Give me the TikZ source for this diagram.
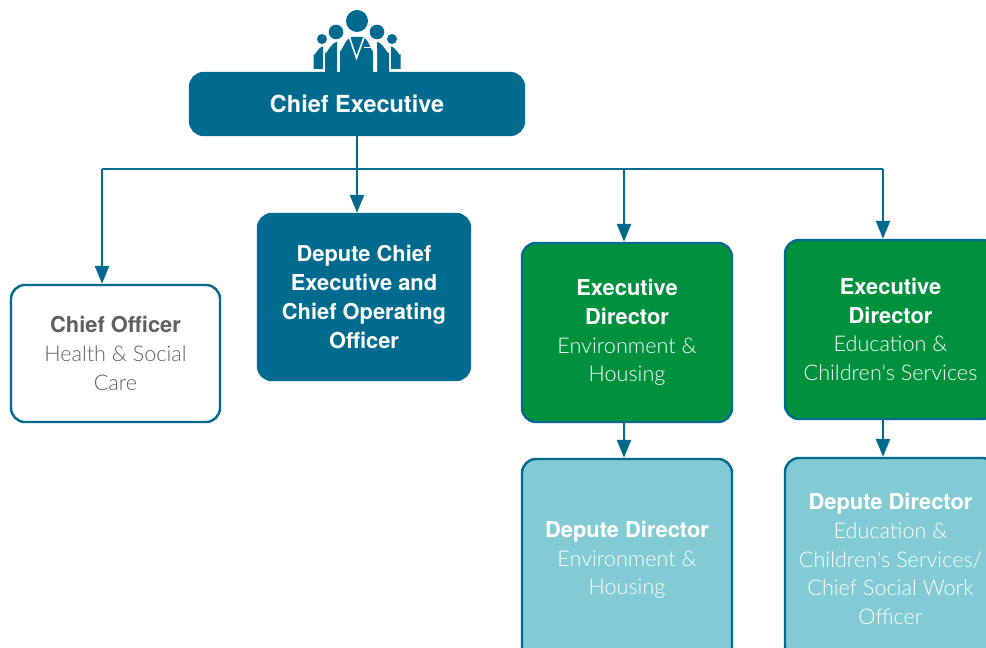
\documentclass[tikz,border=0pt]{standalone}
\usepackage{fontspec}
\setmainfont{TeX Gyre Heros}
\newfontfamily\lightf{Lato Light}
\usetikzlibrary{arrows.meta,calc}
\definecolor{ublue}{HTML}{006B8F}
\definecolor{ugreen}{HTML}{00913F}
\definecolor{ulight}{HTML}{82CBD4}
\definecolor{ugrey}{HTML}{5F5F5F}
\newcommand\pxu{0.75pt}
\newcommand\hd[1]{{\bfseries #1}}
\newcommand\lt[1]{{\lightf\fontsize{16.2}{21.6}\selectfont #1}}
\tikzset{
  boxbase/.style={draw=ublue,line width=2.4*\pxu,rounded corners=14*\pxu,align=center,inner sep=0pt,
    font=\fontsize{16.4}{21.6}\selectfont,text=white},
  whitebox/.style={boxbase,fill=white,text=ugrey},
  bluebox/.style={boxbase,fill=ublue},
  greenbox/.style={boxbase,fill=ugreen},
  lightbox/.style={boxbase,fill=ulight},
  conn/.style={draw=ublue,line width=2.6*\pxu},
  arr/.style={conn,-{Triangle[length=18*\pxu,width=14*\pxu]}},
  icon/.style={fill=ublue,draw=none},
  gap/.style={fill=white,draw=none}
}
\begin{document}
\begin{tikzpicture}[x=0.75pt,y=-0.75pt]
\useasboundingbox (0,0) rectangle (986,648);
\clip (0,0) rectangle (986,648);
% icon
\fill[icon] (322,39) circle (5);
\fill[icon] (392,39) circle (5);
\fill[icon] (313.5,69) -- (313.5,54) to[out=-90,in=180] (323,46.5) -- (323,69) -- cycle;
\fill[icon] (400.5,69) -- (400.5,54) to[out=-90,in=0] (391,46.5) -- (391,69) -- cycle;
\fill[icon] (336,32) circle (7.3);
\fill[icon] (377,32) circle (7.3);
\fill[icon] (325,74) -- (325,52) to[out=-90,in=180] (337,42) -- (337,74) -- cycle;
\fill[icon] (389,74) -- (389,52) to[out=-90,in=0] (377,42) -- (377,74) -- cycle;
\fill[icon] (357,21) circle (11);
\fill[gap] (337,74) -- (337,50) to[out=-90,in=180] (352,34) -- (362,34) to[out=0,in=-90] (377,50) -- (377,74) -- cycle;
\fill[icon] (340,74) -- (340,50) to[out=-90,in=180] (352,37) -- (362,37) to[out=0,in=-90] (373,50) -- (373,74) -- cycle;
\draw[white,line width=1.2] (349.5,37.5) -- (356.5,58) -- (364,37.5);
\draw[white,line width=1.2] (364,47.5) -- (371,47.5);
\draw[white,line width=1] (342,74) -- (342,74);
% boxes
\node[bluebox,minimum width=334*\pxu,minimum height=62*\pxu,font=\fontsize{17.6}{21.6}\selectfont] (ce) at (357,104) {\hd{Chief Executive}};
\node[bluebox,minimum width=212*\pxu,minimum height=166*\pxu] (dc) at (364,297) {\hd{Depute Chief}\\\hd{Executive and}\\\hd{Chief Operating}\\\hd{Officer}};
\node[whitebox,minimum width=209*\pxu,minimum height=137*\pxu] (co) at (115.5,353.5) {\hd{Chief Officer}\\\lt{Health \& Social}\\\lt{Care}};
\node[greenbox,minimum width=210*\pxu,minimum height=179*\pxu] (ee) at (627,332.5) {\hd{Executive}\\\hd{Director}\\\lt{Environment \&}\\\lt{Housing}};
\node[greenbox,minimum width=211*\pxu,minimum height=179*\pxu] (ed) at (890.5,329.5) {\hd{Executive}\\\hd{Director}\\\lt{Education \&}\\\lt{Children's Services}};
\node[lightbox,minimum width=210*\pxu,minimum height=202*\pxu] (de) at (627,560) {\hd{Depute Director}\\\lt{Environment \&}\\\lt{Housing}};
\node[lightbox,minimum width=211*\pxu,minimum height=202*\pxu] (dd) at (890.5,559) {\hd{Depute Director}\\\lt{Education \&}\\\lt{Children's Services/}\\\lt{Chief Social Work}\\\lt{Officer}};
% connectors
\coordinate (busC) at (357,169);
\coordinate (busL) at (102,169);
\coordinate (busE) at (624,169);
\coordinate (busR) at (883,169);
\draw[conn] (busL) -- (busR);
\draw[arr] (ce.south) -- (ce.south |- dc.north);
\draw[arr] (busL) -- (busL |- co.north);
\draw[arr] (busE) -- (busE |- ee.north);
\draw[arr] (busR) -- (busR |- ed.north);
\coordinate (xe) at (624,422);
\coordinate (xd) at (883,419);
\draw[arr] (xe) -- (xe |- de.north);
\draw[arr] (xd) -- (xd |- dd.north);
\end{tikzpicture}
\end{document}
